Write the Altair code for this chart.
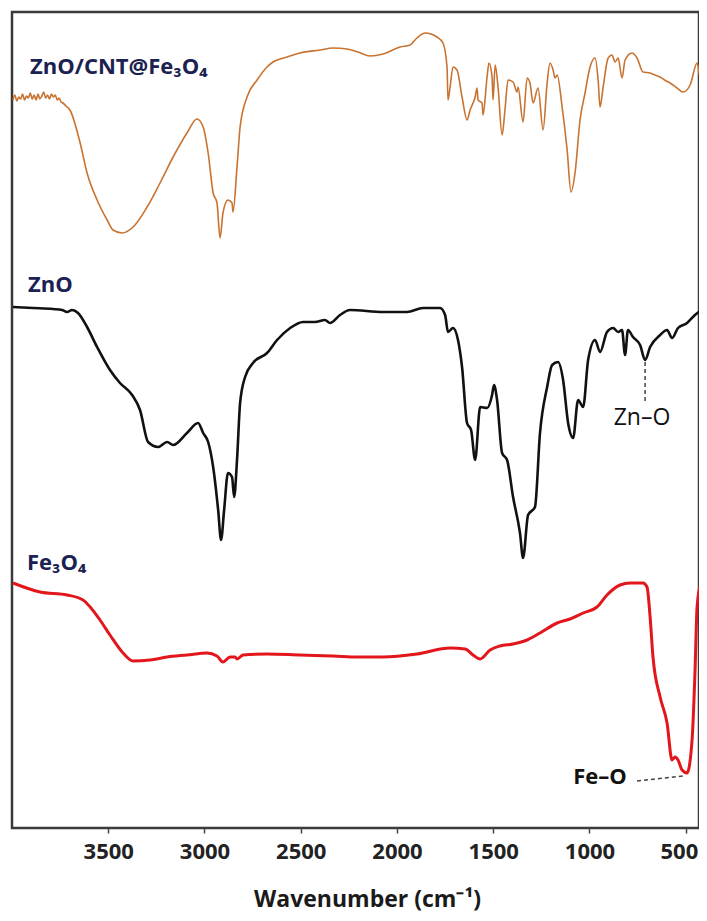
import altair as alt
import pandas as pd

# ---- ZnO/CNT@Fe3O4 (orange) : wavenumber (cm-1), offset transmittance (a.u.)
cnt_wn = [3995, 3985, 3975, 3965, 3955, 3945, 3935, 3925, 3915, 3905, 3895, 3885, 3875,
          3865, 3855, 3845, 3835, 3825, 3815, 3805, 3795, 3785, 3775, 3765, 3755, 3745,
          3735, 3720, 3699, 3646, 3610, 3558, 3506, 3475, 3428, 3371, 3298, 3231, 3163,
          3091, 3039, 3007, 2981, 2955, 2935, 2919, 2904, 2878, 2857, 2852, 2831, 2815,
          2779, 2727, 2675, 2644, 2571, 2504, 2400, 2332, 2259, 2202, 2140, 2072, 1984,
          1932, 1896, 1854, 1792, 1761, 1740, 1735, 1724, 1709, 1688, 1662, 1636, 1620,
          1594, 1584, 1579, 1558, 1553, 1532, 1522, 1506, 1501, 1490, 1475, 1454, 1439,
          1423, 1397, 1376, 1371, 1345, 1324, 1309, 1293, 1267, 1241, 1220, 1205, 1189,
          1179, 1168, 1142, 1116, 1096, 1075, 1049, 1023, 997, 971, 955, 945, 929, 903,
          883, 867, 851, 831, 815, 779, 753, 722, 685, 660, 633, 610, 581, 545, 514, 477,
          441, 425, 415, 410, 400]
cnt_t = [728, 733, 727, 731, 729, 734, 728, 732, 730, 735, 729, 733, 728,
         734, 729, 732, 736, 730, 733, 729, 734, 731, 733, 728, 730, 726,
         725, 722, 718, 685, 655, 628, 608, 598, 595, 601, 621, 645, 671,
         695, 709, 701, 675, 635, 625, 590, 615, 628, 625, 616, 661, 701,
         731, 748, 761, 766, 771, 775, 778, 780, 779, 776, 772, 774, 781,
         783, 790, 795, 791, 785, 761, 728, 741, 761, 758, 731, 708, 718,
         731, 740, 728, 725, 713, 751, 765, 751, 728, 763, 741, 693, 718,
         748, 746, 736, 741, 706, 750, 745, 725, 740, 698, 745, 765, 758,
         750, 753, 721, 678, 636, 655, 708, 735, 761, 770, 748, 721, 741, 770,
         773, 766, 770, 750, 768, 775, 770, 756, 755, 753, 751, 748, 745, 740, 736, 743,
         765, 751, 771, 731, 745]

# ---- ZnO (black)
zno_wn = [3995, 3891, 3787, 3740, 3714, 3688, 3657, 3610, 3558, 3491, 3439, 3376, 3335,
          3293, 3241, 3194, 3163, 3091, 3033, 3007, 2981, 2955, 2929, 2914, 2898, 2878,
          2857, 2846, 2831, 2815, 2789, 2748, 2675, 2623, 2555, 2488, 2426, 2374, 2348,
          2296, 2244, 2072, 1948, 1865, 1776, 1750, 1735, 1709, 1683, 1662, 1636, 1615,
          1594, 1568, 1532, 1506, 1496, 1480, 1454, 1428, 1397, 1361, 1345, 1319, 1283,
          1257, 1220, 1194, 1163, 1137, 1111, 1085, 1059, 1033, 1007, 971, 945, 909, 877,
          851, 831, 815, 800, 774, 737, 711, 685, 633, 597, 571, 540, 493, 452, 410]
zno_t = [521, 520, 519, 518, 516, 518, 515, 501, 481, 458, 445, 433, 418,
         386, 381, 386, 383, 395, 405, 395, 386, 361, 318, 288, 318, 355,
         351, 331, 368, 425, 451, 465, 475, 488, 500, 506, 506, 508, 505,
         513, 518, 516, 516, 520, 520, 513, 496, 500, 488, 461, 405, 398,
         368, 421, 420, 433, 443, 428, 375, 368, 331, 295, 270, 313, 321,
         395, 441, 463, 466, 448, 405, 390, 428, 421, 468, 488, 476, 496, 500,
         496, 498, 473, 498, 491, 483, 468, 481, 493, 498, 490, 500, 505, 513, 519]

# ---- Fe3O4 (red)
fe_wn = [3995, 3854, 3714, 3631, 3594, 3543, 3491, 3423, 3371, 3283, 3194, 3091, 2987,
         2935, 2904, 2867, 2841, 2831, 2800, 2675, 2504, 2332, 2202, 2072, 1896, 1724,
         1646, 1605, 1568, 1516, 1465, 1397, 1324, 1257, 1168, 1101, 1033, 961, 909, 841,
         789, 722, 701, 685, 670, 633, 597, 571, 555, 540, 519, 493, 467, 452, 441, 425,
         400]
fe_t = [245, 236, 233, 228, 221, 208, 193, 175, 167, 168, 171, 173, 175,
        172, 166, 171, 171, 169, 173, 174, 173, 172, 171, 171, 174, 180,
        179, 173, 169, 178, 182, 184, 188, 195, 205, 209, 215, 221, 233, 243,
        245, 245, 241, 211, 171, 131, 105, 68, 71, 68, 58, 55, 88, 155, 221, 241,
        245]

# ---- labels / annotations
sample_names = ["ZnO/CNT@Fe\u2083O\u2084", "ZnO", "Fe\u2083O\u2084"]
sample_label_wn = [3906, 3917, 3922]
sample_label_t = [761, 543, 265]

band_names = ["Zn\u2013O", "Fe\u2013O"]
band_label_wn = [727, 945]
band_label_t = [410, 51]
band_line_wn = [711, 753]
band_line_wn2 = [711, 514]
band_line_t = [466, 47]
band_line_t2 = [425, 52]

xticks = [3500, 3000, 2500, 2000, 1500, 1000, 500]

FONT = "Open Sans"

cnt_df = pd.DataFrame({"wn": cnt_wn, "t": cnt_t})
zno_df = pd.DataFrame({"wn": zno_wn, "t": zno_t})
fe_df = pd.DataFrame({"wn": fe_wn, "t": fe_t})
lab_df = pd.DataFrame({"wn": sample_label_wn, "t": sample_label_t, "name": sample_names})
zn_df = pd.DataFrame({"wn": band_label_wn[:1], "t": band_label_t[:1], "name": band_names[:1]})
feo_df = pd.DataFrame({"wn": band_label_wn[1:], "t": band_label_t[1:], "name": band_names[1:]})
rule_df = pd.DataFrame({"wn": band_line_wn, "wn2": band_line_wn2,
                        "t": band_line_t, "t2": band_line_t2})

xscale = alt.Scale(domain=[4000, 431], nice=False, zero=False)
yscale = alt.Scale(domain=[0, 816], nice=False, zero=False)

xaxis = alt.Axis(values=xticks, format="d", title="Wavenumber (cm\u207b\u00b9)", grid=False,
                 domain=False, ticks=True, tickSize=5, tickWidth=1.5, tickColor="#444444",
                 labelFont=FONT, labelFontSize=22, labelFontWeight="bold",
                 labelColor="#222222", labelPadding=8, labelFlush=15, labelFlushOffset=12,
                 titleFont=FONT, titleFontSize=23, titleFontWeight="bold",
                 titleColor="#1a1a1a", titleX=355, titleY=78,
                 titleBaseline="alphabetic", titleAlign="center", titleAnchor="start")

X = alt.X("wn:Q", scale=xscale, axis=xaxis)
Y = alt.Y("t:Q", scale=yscale, axis=None)

def spectrum(df, color, width):
    return alt.Chart(df).mark_line(color=color, strokeWidth=width, interpolate="monotone",
                                   strokeJoin="round", clip=True).encode(
        x=X, y=Y, order="wn:Q")

cnt_line = spectrum(cnt_df, "#c97330", 1.6)
zno_line = spectrum(zno_df, "#111111", 2.6)
fe_line = spectrum(fe_df, "#e3161c", 3.0)

labels = alt.Chart(lab_df).mark_text(align="left", baseline="middle", font=FONT,
                                     fontSize=22, fontWeight="bold",
                                     color="#1b2150").encode(
    x=alt.X("wn:Q", scale=xscale), y=alt.Y("t:Q", scale=yscale), text="name:N")

zn_text = alt.Chart(zn_df).mark_text(align="center", baseline="middle", font=FONT,
                                     fontSize=23, fontWeight="normal",
                                     color="#111111").encode(
    x=alt.X("wn:Q", scale=xscale), y=alt.Y("t:Q", scale=yscale), text="name:N")

feo_text = alt.Chart(feo_df).mark_text(align="center", baseline="middle", font=FONT,
                                       fontSize=22, fontWeight="bold",
                                       color="#111111").encode(
    x=alt.X("wn:Q", scale=xscale), y=alt.Y("t:Q", scale=yscale), text="name:N")

rules = alt.Chart(rule_df).mark_rule(color="#444444", strokeWidth=1.5,
                                     strokeDash=[4, 3]).encode(
    x=alt.X("wn:Q", scale=xscale), x2="wn2:Q",
    y=alt.Y("t:Q", scale=yscale), y2="t2:Q")

chart = alt.layer(cnt_line, zno_line, fe_line, rules, labels, zn_text, feo_text).properties(
    width=687, height=816,
    padding={"left": 4, "top": 4, "right": 0, "bottom": 85},
    autosize=alt.AutoSizeParams(type="none"),
    background="white",
).configure_view(stroke="#3a3a3a", strokeWidth=2.5)

chart.save("out.html", embed_options={"renderer": "svg", "actions": False})
